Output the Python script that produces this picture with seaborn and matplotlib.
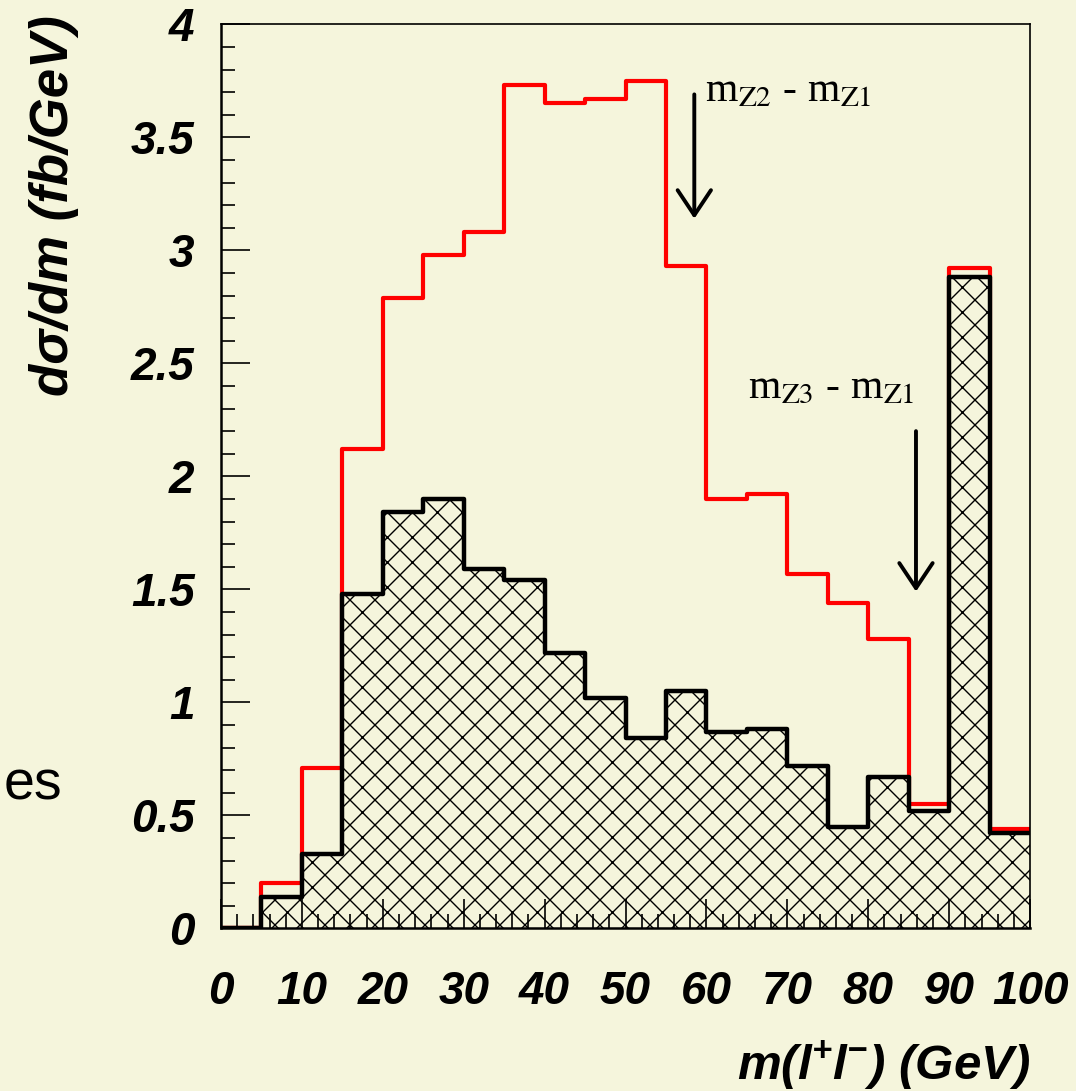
import numpy as np
import matplotlib.pyplot as plt
import matplotlib.ticker as mticker
from matplotlib.backend_bases import GraphicsContextBase
import seaborn as sns

# Bins de massa (GeV), largura 5
bordas = [0, 5, 10, 15, 20, 25, 30, 35, 40, 45, 50,
          55, 60, 65, 70, 75, 80, 85, 90, 95, 100]
centros = [2.5, 7.5, 12.5, 17.5, 22.5, 27.5, 32.5, 37.5, 42.5, 47.5,
           52.5, 57.5, 62.5, 67.5, 72.5, 77.5, 82.5, 87.5, 92.5, 97.5]

# Histograma vermelho (total) e preto (hachurado)
total = [0.00, 0.20, 0.71, 2.12, 2.79, 2.98, 3.08, 3.73, 3.65, 3.67,
         3.75, 2.93, 1.90, 1.92, 1.57, 1.44, 1.28, 0.55, 2.92, 0.44]
fundo = [0.00, 0.14, 0.33, 1.48, 1.84, 1.90, 1.59, 1.54, 1.22, 1.02,
         0.84, 1.05, 0.87, 0.88, 0.72, 0.45, 0.67, 0.52, 2.88, 0.42]

cor_fundo = "#f5f5dc"

# Hachura um pouco mais densa que o padrao (8 em vez de 6)
_hatch_original = GraphicsContextBase.get_hatch_path
GraphicsContextBase.get_hatch_path = lambda self, density=8.0: _hatch_original(self, density)

sns.set_style("ticks", {"axes.facecolor": cor_fundo, "figure.facecolor": cor_fundo})
plt.rcParams["font.family"] = ["Liberation Sans", "DejaVu Sans"]
plt.rcParams["text.color"] = "black"
plt.rcParams["axes.labelcolor"] = "black"
plt.rcParams["xtick.color"] = "black"
plt.rcParams["ytick.color"] = "black"
plt.rcParams["axes.edgecolor"] = "black"
plt.rcParams["mathtext.fontset"] = "custom"
plt.rcParams["mathtext.rm"] = "Liberation Sans:bold:italic"
plt.rcParams["mathtext.it"] = "Liberation Sans:bold:italic"
plt.rcParams["mathtext.bf"] = "Liberation Sans:bold:italic"
plt.rcParams["hatch.linewidth"] = 1.0

fig = plt.figure(figsize=(10.76, 10.91), dpi=100)
ax = fig.add_axes([0.2054, 0.1491, 0.7519, 0.8286])
ax.set_axisbelow(False)

# Contorno vermelho
sns.histplot(x=centros, weights=total, bins=bordas, element="step", fill=True,
             color="red", linewidth=3.0, ax=ax)
poly_v = ax.collections[-1]
poly_v.set_facecolor("none")
poly_v.set_edgecolor("red")
poly_v.set_zorder(1.0)

# Area hachurada
sns.histplot(x=centros, weights=fundo, bins=bordas, element="step", fill=True,
             color="black", linewidth=0, ax=ax)
poly = ax.collections[-1]
poly.set_facecolor(cor_fundo)
poly.set_alpha(1)
poly.set_edgecolor("black")
poly.set_hatch("x")
poly.set_linewidth(0)
poly.set_zorder(1.2)

# Contorno preto
sns.histplot(x=centros, weights=fundo, bins=bordas, element="step", fill=False,
             color="black", linewidth=3.2, ax=ax)
ax.lines[-1].set_zorder(2)

ax.set_xlim(0, 100)
ax.set_ylim(0, 4)
ax.xaxis.set_major_locator(mticker.MultipleLocator(10))
ax.xaxis.set_minor_locator(mticker.MultipleLocator(2))
ax.yaxis.set_major_locator(mticker.MultipleLocator(0.5))
ax.yaxis.set_minor_locator(mticker.MultipleLocator(0.1))
ax.yaxis.set_major_formatter(mticker.FuncFormatter(lambda v, p: "%g" % v))

ax.tick_params(which="both", direction="in", color="black", width=1.2)
ax.tick_params(which="major", length=21)
ax.tick_params(which="minor", length=10)
ax.tick_params(axis="y", which="major", pad=19)
ax.tick_params(axis="x", which="major", pad=30)
for lbl in ax.get_xticklabels() + ax.get_yticklabels():
    lbl.set_fontsize(33)
    lbl.set_fontweight("bold")
    lbl.set_fontstyle("italic")
    lbl.set_color("black")

for lado in ["top", "right"]:
    ax.spines[lado].set_linewidth(1.2)
ax.spines["left"].set_linewidth(1.8)
ax.spines["bottom"].set_linewidth(1.8)

ax.set_ylabel("dσ/dm (fb/GeV)", loc="top", fontsize=38,
              fontweight="bold", fontstyle="italic")
ax.yaxis.set_label_coords(-0.175, 1.010)
ax.set_xlabel(r"m(l$^{+}$l$^{-}$) (GeV)", loc="right", fontsize=35.5,
              fontweight="bold", fontstyle="italic")
ax.xaxis.set_label_coords(1.0, -0.121)

# Setas e textos
seta = dict(arrowstyle="->, head_length=0.9, head_width=0.6", lw=2.8,
            color="black", shrinkA=0, shrinkB=0, mutation_scale=20)
ax.annotate("", xy=(58.5, 3.14), xytext=(58.5, 3.69), arrowprops=seta)
ax.annotate("", xy=(85.9, 1.49), xytext=(85.9, 2.20), arrowprops=seta)
ax.text(59.8, 3.66, r"m$_{\rm Z2}$ - m$_{\rm Z1}$", fontsize=30,
        family="Liberation Serif", math_fontfamily="stix")
ax.text(65.1, 2.35, r"m$_{\rm Z3}$ - m$_{\rm Z1}$", fontsize=30,
        family="Liberation Serif", math_fontfamily="stix")

fig.text(0.003, 0.267, "es", fontsize=40, family="Liberation Sans")

fig.savefig("out.png", dpi=100, facecolor=cor_fundo)
